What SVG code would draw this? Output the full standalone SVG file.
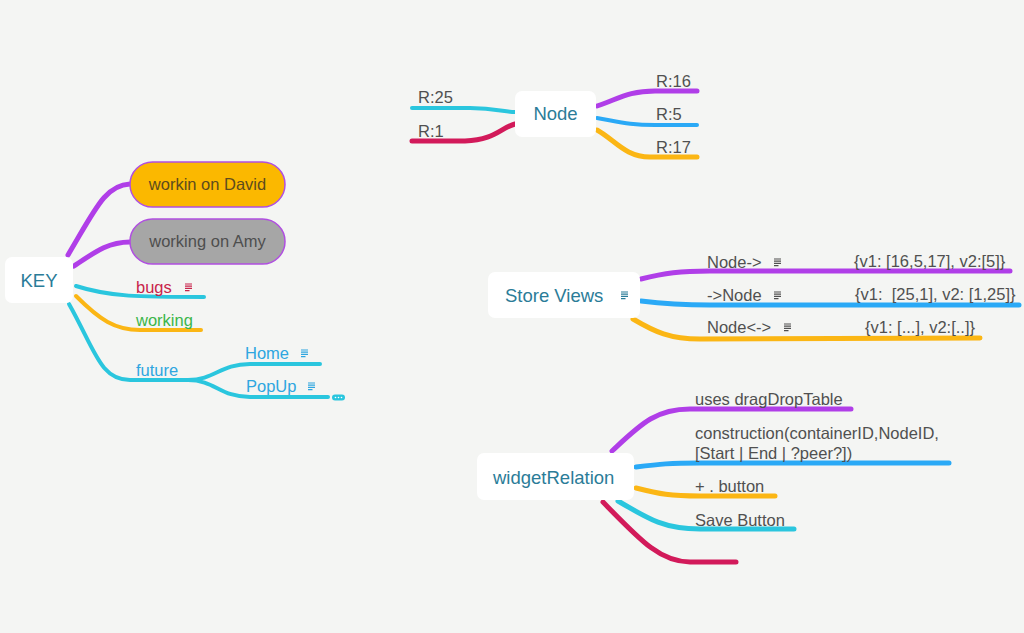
<svg xmlns="http://www.w3.org/2000/svg" width="1024" height="633" viewBox="0 0 1024 633">
<defs>
<style>
.bg{fill:#f4f5f3}
.card{fill:#ffffff}
.ln{fill:none;stroke-linecap:round;stroke-width:5}
.thin{stroke-width:4}
.pu{stroke:#b03ee8}
.cy{stroke:#2ac6de}
.or{stroke:#fbb614}
.bl{stroke:#2aa9f6}
.rd{stroke:#d21a5a}
.main{font-family:"Liberation Sans",Arial,sans-serif;font-size:18.5px;fill:#2b7c98}
.lbl{font-family:"Liberation Sans",Arial,sans-serif;font-size:16.5px;fill:#505050}
.note{fill:none;stroke-width:1.2}
</style>
<g id="noteicon">
<path d="M0 0h7M0 2.2h7M0 4.4h7M0 6.6h4.5"/>
</g>
</defs>
<rect class="bg" x="0" y="0" width="1024" height="633"/>

<g id="connectors">
<!-- KEY -->
<path class="ln pu" d="M68 255 C95 210 105 185 130 184"/>
<path class="ln pu" d="M74 266 C95 252 108 242 130 242"/>
<path class="ln cy thin" d="M76 286 C110 297 140 297 204 297"/>
<path class="ln or thin" d="M76 296 C100 320 115 330 140 330 L201 330"/>
<path class="ln cy thin" d="M69 304 C95 350 100 380 130 380 L190 380"/>
<path class="ln cy thin" d="M188 380 C215 380 220 364 250 364 L320 364"/>
<path class="ln cy thin" d="M188 380 C215 380 220 397 250 397 L328 397"/>
<!-- Node -->
<path class="ln cy thin" d="M412 108 L470 108 C495 108 505 112 515 112"/>
<path class="ln rd" d="M412 141 L465 141 C495 140 500 128 515 124"/>
<path class="ln pu" d="M597 106 C620 98 630 91 655 91 L697 91"/>
<path class="ln bl thin" d="M597 118 C620 122 630 125 655 125 L697 125"/>
<path class="ln or" d="M597 130 C615 140 625 157 650 157 L697 157"/>
<!-- Store Views -->
<path class="ln pu" d="M641 279 C665 273 680 271 710 271 L1010 271"/>
<path class="ln bl" d="M641 301 C665 304 680 305 710 305 L1019 305"/>
<path class="ln or" d="M633 319 C655 332 670 339 700 339 L980 338"/>
<!-- widgetRelation -->
<path class="ln pu" d="M612 451 C640 425 655 409 690 409 L851 409"/>
<path class="ln bl" d="M636 467 C660 464 670 463 700 463 L949 463"/>
<path class="ln or" d="M636 488 C660 494 670 496 700 496 L775 496"/>
<path class="ln cy" d="M618 501 C650 520 665 529 700 529 L794 529"/>
<path class="ln rd" d="M603 502 C640 540 660 562 690 562 L736 562"/>
</g>

<g id="KEY">
<rect class="card" x="5" y="257" width="68" height="46" rx="7"/>
<text class="main" x="39" y="287" text-anchor="middle">KEY</text>
</g>
<g id="workinDavid">
<rect x="130" y="162" width="155" height="45" rx="22.5" fill="#fbb800" stroke="#b04fe0" stroke-width="1.5"/>
<text class="lbl" x="207.5" y="190" text-anchor="middle" style="fill:#5e4c1e">workin on David</text>
</g>
<g id="workingAmy">
<rect x="130" y="219" width="155" height="45" rx="22.5" fill="#a6a6a6" stroke="#b04fe0" stroke-width="1.5"/>
<text class="lbl" x="207.5" y="247" text-anchor="middle" style="fill:#4e4e4e">working on Amy</text>
</g>
<g id="bugs">
<text class="lbl" x="136" y="293" style="fill:#c8234a">bugs</text>
<use href="#noteicon" x="185" y="284" class="note" stroke="#c8234a"/>
</g>
<g id="working">
<text class="lbl" x="136" y="326" style="fill:#3cb54a">working</text>
</g>
<g id="future">
<text class="lbl" x="136" y="376" style="fill:#2ea6e0">future</text>
</g>
<g id="Home">
<text class="lbl" x="245" y="359" style="fill:#2ea6e0">Home</text>
<use href="#noteicon" x="301" y="350" class="note" stroke="#2ea6e0"/>
</g>
<g id="PopUp">
<text class="lbl" x="246" y="392" style="fill:#2ea6e0">PopUp</text>
<use href="#noteicon" x="308" y="383" class="note" stroke="#2ea6e0"/>
<rect x="332" y="394.5" width="13" height="6" rx="3" fill="#2ac6de"/>
<circle cx="335.5" cy="397.5" r="0.8" fill="#fff"/>
<circle cx="338.5" cy="397.5" r="0.8" fill="#fff"/>
<circle cx="341.5" cy="397.5" r="0.8" fill="#fff"/>
</g>

<g id="Node">
<rect class="card" x="515" y="91" width="81" height="46" rx="7"/>
<text class="main" x="555.5" y="120" text-anchor="middle">Node</text>
</g>
<g id="R25"><text class="lbl" x="418" y="103">R:25</text></g>
<g id="R1"><text class="lbl" x="418" y="137">R:1</text></g>
<g id="R16"><text class="lbl" x="656" y="87">R:16</text></g>
<g id="R5"><text class="lbl" x="656" y="120">R:5</text></g>
<g id="R17"><text class="lbl" x="656" y="153">R:17</text></g>

<g id="StoreViews">
<rect class="card" x="488" y="272" width="152" height="46" rx="7"/>
<text class="main" x="505" y="302">Store Views</text>
<use href="#noteicon" x="621" y="292" class="note" stroke="#2b7c98"/>
</g>
<g id="NodeOut">
<text class="lbl" x="707" y="268">Node-&gt;</text>
<use href="#noteicon" x="774" y="259" class="note" stroke="#505050"/>
<text class="lbl" x="854" y="267">{v1: [16,5,17], v2:[5]}</text>
</g>
<g id="NodeIn">
<text class="lbl" x="707" y="301">-&gt;Node</text>
<use href="#noteicon" x="774" y="292" class="note" stroke="#505050"/>
<text class="lbl" x="855" y="300" xml:space="preserve">{v1:  [25,1], v2: [1,25]}</text>
</g>
<g id="NodeBoth">
<text class="lbl" x="707" y="333">Node&lt;-&gt;</text>
<use href="#noteicon" x="784" y="324" class="note" stroke="#505050"/>
<text class="lbl" x="865" y="333">{v1: [...], v2:[..]}</text>
</g>

<g id="widgetRelation">
<rect class="card" x="477" y="453" width="157" height="47" rx="7"/>
<text class="main" x="493" y="484">widgetRelation</text>
</g>
<g id="uses"><text class="lbl" x="695" y="405">uses dragDropTable</text></g>
<g id="construction">
<text class="lbl" x="695" y="439">construction(containerID,NodeID,</text>
<text class="lbl" x="695" y="459">[Start | End | ?peer?])</text>
</g>
<g id="plusButton"><text class="lbl" x="695" y="492">+ . button</text></g>
<g id="saveButton"><text class="lbl" x="695" y="526">Save Button</text></g>
</svg>
